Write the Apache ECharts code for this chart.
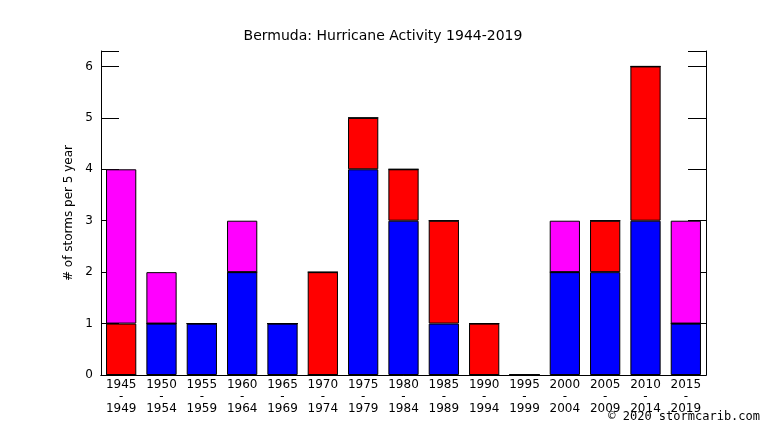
<!DOCTYPE html>
<html>
<head>
<meta charset="utf-8">
<script src="https://cdn.jsdelivr.net/npm/echarts@6/dist/echarts.min.js"></script>
<style>html,body{margin:0;padding:0;background:#fff}#c{width:766px;height:431px}</style>
</head>
<body>
<div id="c"></div>
<script>
// 5-year periods
const periods = ['1945\n-\n1949','1950\n-\n1954','1955\n-\n1959','1960\n-\n1964','1965\n-\n1969','1970\n-\n1974','1975\n-\n1979','1980\n-\n1984','1985\n-\n1989','1990\n-\n1994','1995\n-\n1999','2000\n-\n2004','2005\n-\n2009','2010\n-\n2014','2015\n-\n2019']
const blueVals = [0,1,1,2,1,0,4,3,1,0,0,2,2,3,1]
const redVals = [1,0,0,0,0,2,1,1,2,1,0,0,1,3,0]
const magentaVals = [3,1,0,1,0,0,0,0,0,0,0,1,0,0,2]

const chart = echarts.init(document.getElementById('c'))
const ax = { lineStyle: { color: '#000', width: 1 } }
function bar(name, data, color) {
  return {
    name: name, type: 'bar', stack: 's', data: data, barWidth: '75%',
    itemStyle: { color: color, borderColor: '#000', borderWidth: 1 }
  }
}
chart.setOption({
  animation: false,
  textStyle: { fontFamily: 'DejaVu Sans' },
  title: {
    text: 'Bermuda: Hurricane Activity 1944-2019', left: 'center', top: 24,
    textStyle: { fontSize: 14, fontWeight: 'normal', color: '#000', fontFamily: 'DejaVu Sans' }
  },
  graphic: [{
    type: 'text', right: 6, bottom: 8,
    style: { text: '© 2020 stormcarib.com', font: '12px DejaVu Sans Mono', fill: '#000' }
  }],
  grid: { left: 101, right: 60, top: 51, bottom: 56, containLabel: false },
  xAxis: [{
    type: 'category', data: periods, axisLine: ax,
    axisTick: { inside: true, length: 18, alignWithLabel: true, lineStyle: { color: '#000' } },
    axisLabel: { color: '#000', fontSize: 12, lineHeight: 12, margin: 4 }
  }, {
    type: 'category', data: periods, position: 'top', axisLine: ax,
    axisTick: { inside: true, length: 18, alignWithLabel: true, lineStyle: { color: '#000' } },
    axisLabel: { show: false }
  }],
  yAxis: [{
    type: 'value', min: 0, max: 6.3, interval: 1,
    name: '# of storms per 5 year', nameLocation: 'middle', nameGap: 22,
    nameTextStyle: { color: '#000', fontSize: 12 },
    axisLine: { show: true, lineStyle: { color: '#000' } },
    axisTick: { show: true, inside: true, length: 18, lineStyle: { color: '#000' } },
    axisLabel: { color: '#000', fontSize: 12, margin: 8, formatter: v => Number.isInteger(v) ? v : '' },
    splitLine: { show: false }
  }, {
    type: 'value', min: 0, max: 6.3, interval: 1, position: 'right',
    axisLine: { show: true, lineStyle: { color: '#000' } },
    axisTick: { show: true, inside: true, length: 18, lineStyle: { color: '#000' } },
    axisLabel: { show: false }, splitLine: { show: false }
  }],
  series: [
    bar('blue', blueVals, '#0000ff'),
    bar('red', redVals, '#ff0000'),
    bar('magenta', magentaVals, '#ff00ff')
  ]
})
</script>
</body>
</html>
